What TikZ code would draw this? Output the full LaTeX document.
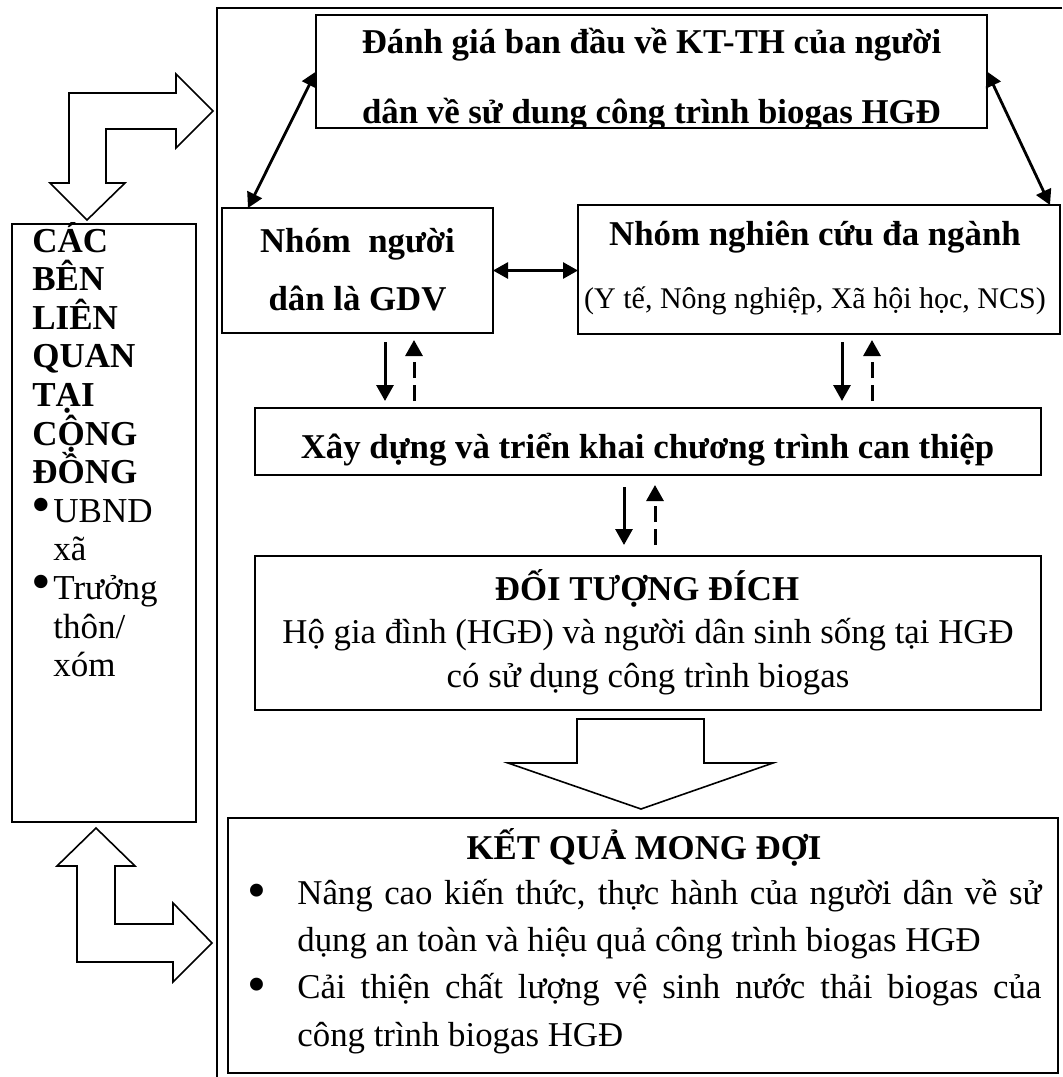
\documentclass[tikz,border=0pt]{standalone}
\usepackage{fontspec}
\setmainfont{Liberation Serif}
\usetikzlibrary{arrows.meta,calc}
\begin{document}
\begin{tikzpicture}[x=0.5pt,y=-0.5pt,
  box/.style={draw, line width=1.1pt, inner sep=0pt, outer sep=0pt},
  tn/.style={font=\fontsize{17.4pt}{20pt}\selectfont, inner sep=0pt, anchor=base},
  tb/.style={tn, font=\fontsize{17.4pt}{20pt}\selectfont\bfseries},
  tsub/.style={tn, font=\fontsize{15pt}{18pt}\selectfont},
  lb/.style={font=\fontsize{17.5pt}{19pt}\selectfont\bfseries, inner sep=0pt, anchor=base west},
  ln/.style={font=\fontsize{17.5pt}{19pt}\selectfont, inner sep=0pt, anchor=base west},
  bul/.style={font=\fontsize{27pt}{27pt}\selectfont, inner sep=0pt, anchor=center},
  sbul/.style={font=\fontsize{28pt}{28pt}\selectfont, inner sep=0pt, anchor=center},
  blk/.style={draw, line width=0.8pt, line join=miter},
  frame/.style={draw, line width=1.3pt},
  dbl/.style={{Triangle[length=7.5pt,width=8pt]}-{Triangle[length=7.5pt,width=8pt]}, line width=1.4pt},
  sarr/.style={-{Triangle[length=8pt,width=8.5pt]}, line width=1.5pt},
  darr/.style={sarr, dash pattern=on 8pt off 3.5pt}
]
\useasboundingbox (0,0) rectangle (1062,1077);
% outer frame
\draw[frame] (1062,8) -- (217,8) -- (217,1077);

% boxes
\node[box, minimum width=335.5pt, minimum height=56.5pt] (eval) at (651.5,71.5) {};
\node[box, minimum width=135.5pt, minimum height=62.5pt] (grpL) at (357.5,270.5) {};
\node[box, minimum width=241pt, minimum height=64.5pt] (grpR) at (819,269.5) {};
\node[box, minimum width=393pt, minimum height=33.5pt] (xd) at (648,441.5) {};
\node[box, minimum width=393pt, minimum height=77pt] (target) at (648,633) {};
\node[box, minimum width=415pt, minimum height=127.5pt] (result) at (643,945.5) {};
\node[box, minimum width=92pt, minimum height=299pt] (side) at (104,523) {};

% top box text (clipped by its frame)
\begin{scope}
\clip (eval.south west) rectangle (eval.north east);
\node[tb] (evalA) at (651.5,53) {Đánh giá ban đầu về KT-TH của người};
\node[tb] (evalB) at (651.5,123) {dân về sử dung công trình biogas HGĐ};
\end{scope}

% group boxes text
\node[tb] (grpLa) at (357.5,252) {Nhóm\ \ người};
\node[tb] (grpLb) at (357.5,310) {dân là GDV};
\node[tb] (grpRa) at (815,245) {Nhóm nghiên cứu đa ngành};
\node[tsub] (grpRb) at (815,308) {(Y tế, Nông nghiệp, Xã hội học, NCS)};

% intervention
\node[tb] (xdt) at (647.5,458) {Xây dựng và triển khai chương trình can thiệp};

% target
\node[tb] (tga) at (647,600) {ĐỐI TƯỢNG ĐÍCH};
\node[tn] (tgb) at (648,643) {Hộ gia đình (HGĐ) và người dân sinh sống tại HGĐ};
\node[tn] (tgc) at (648,687) {có sử dụng công trình biogas};

% result
\node[tb] (rsa) at (644,859) {KẾT QUẢ MONG ĐỢI};
\node[bul] (rb1) at (257,896) {•};
\node[tn, anchor=base west] (rl1) at (297,904) {\makebox[372pt][s]{Nâng cao kiến thức, thực hành của người dân về sử}};
\node[tn, anchor=base west] (rl2) at (297,951) {dụng an toàn và hiệu quả công trình biogas HGĐ};
\node[bul] (rb2) at (257,990) {•};
\node[tn, anchor=base west] (rl3) at (297,998) {\makebox[372pt][s]{Cải thiện chất lượng vệ sinh nước thải biogas của}};
\node[tn, anchor=base west] (rl4) at (297,1046) {công trình biogas HGĐ};

% side box text
\node[lb] (s1) at (32,252) {CÁC};
\node[lb] (s2) at (32,290.6) {BÊN};
\node[lb] (s3) at (32,329.2) {LIÊN};
\node[lb] (s4) at (32,367.8) {QUAN};
\node[lb] (s5) at (32,406.4) {TẠI};
\node[lb] (s6) at (32,445) {CỘNG};
\node[lb] (s7) at (32,483.6) {ĐỒNG};
\node[sbul] (sb1) at (41,511) {•};
\node[ln] (s8) at (53,522.2) {UBND};
\node[ln] (s9) at (53,560.8) {xã};
\node[sbul] (sb2) at (41,588) {•};
\node[ln] (s10) at (53,599.4) {Trưởng};
\node[ln] (s11) at (53,638) {thôn/};
\node[ln] (s12) at (53,676.6) {xóm};

% double arrows
\draw[dbl] (eval.west) -- ($(grpL.north west)+(26,0)$);
\draw[dbl] (eval.east) -- ($(grpR.north east)+(-10,0)$);
\draw[dbl] (grpL.east) -- (grpL.east -| grpR.west);

% vertical arrow pairs
\coordinate (c385) at (385,0);
\coordinate (c414) at (414,0);
\coordinate (c842) at (842,0);
\coordinate (c872) at (872,0);
\coordinate (c624) at (624,0);
\coordinate (c655) at (655,0);
\draw[sarr] ($(grpL.south -| c385)+(0,9)$) -- ($(xd.north -| c385)+(0,-7)$);
\draw[darr] ($(xd.north -| c414)+(0,-7)$) -- ($(grpL.south -| c414)+(0,7)$);
\draw[sarr] ($(grpR.south -| c842)+(0,8)$) -- ($(xd.north -| c842)+(0,-7)$);
\draw[darr] ($(xd.north -| c872)+(0,-7)$) -- ($(grpR.south -| c872)+(0,6)$);
\draw[sarr] ($(xd.south -| c624)+(0,12)$) -- ($(target.north -| c624)+(0,-11)$);
\draw[darr] ($(target.north -| c655)+(0,-11)$) -- ($(xd.south -| c655)+(0,10)$);

% big down arrow
\draw[blk] (577,719) -- (704,719) -- (704,763) -- (773,763) -- (641,809) -- (508,763) -- (577,763) -- cycle;

% bent block arrows
\draw[blk] (87,220) -- (125,183) -- (106,183) -- (106,129) -- (176,129) -- (176,148) -- (213,111)
  -- (176,74) -- (176,93) -- (69,93) -- (69,183) -- (50,183) -- cycle;
\draw[blk] (96,828) -- (135,866) -- (115,866) -- (115,924) -- (173,924) -- (173,903) -- (212,943)
  -- (173,982) -- (173,962) -- (77,962) -- (77,866) -- (57,866) -- cycle;
\end{tikzpicture}
\end{document}
